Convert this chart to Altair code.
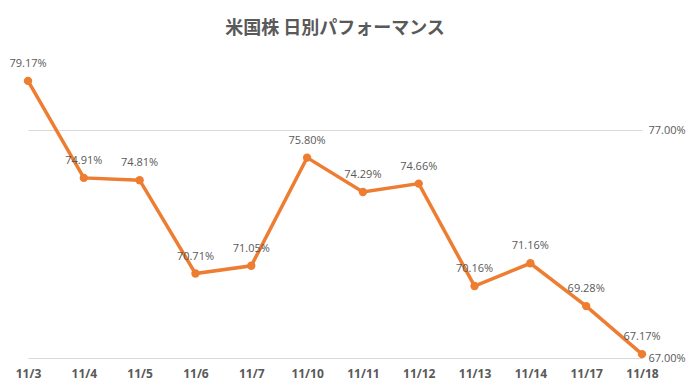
import altair as alt
import pandas as pd

dates = ["11/3", "11/4", "11/5", "11/6", "11/7", "11/10", "11/11", "11/12", "11/13", "11/14", "11/17", "11/18"]
values = [79.17, 74.91, 74.81, 70.71, 71.05, 75.80, 74.29, 74.66, 70.16, 71.16, 69.28, 67.17]
y_ticks = [67, 77]

df = pd.DataFrame({"date": dates, "value": values})

x = alt.X("date:N", sort=dates, scale=alt.Scale(type="point", padding=0),
          axis=alt.Axis(title=None, labelAngle=0, ticks=False, domain=False, grid=False,
                        labelFont="Open Sans", labelFontWeight="bold", labelFontSize=12,
                        labelColor="#595959", labelPadding=10))
y = alt.Y("value:Q", scale=alt.Scale(domain=[67, 80], nice=False, zero=False),
          axis=alt.Axis(title=None, orient="right", values=y_ticks, ticks=False, domain=False,
                        grid=True, gridColor="#d9d9d9", gridWidth=1,
                        labelExpr="format(datum.value, '.2f') + '%'",
                        labelFont="Open Sans", labelFontSize=11, labelColor="#595959",
                        labelPadding=6))

base = alt.Chart(df).encode(x=x, y=y)

line = base.mark_line(color="#ED7D31", strokeWidth=3.5)
pts = base.mark_circle(color="#ED7D31", size=70, opacity=1)
labels = base.transform_calculate(lbl="format(datum.value, '.2f') + '%'").mark_text(
    dy=-17, font="Open Sans", fontSize=11, color="#595959"
).encode(text="lbl:N")

chart = (line + pts + labels).properties(
    width=614, height=296,
    background="white",
    title=alt.Title("米国株 日別パフォーマンス", font="Noto Sans CJK JP", fontSize=18,
                    fontWeight="bold", color="#595959", anchor="middle", offset=20),
    autosize=alt.AutoSizeParams(type="none"),
    padding={"left": 28, "top": 62, "right": 56, "bottom": 34},
).configure_view(stroke=None)

chart.save("out.html", embed_options={"renderer": "svg", "actions": False})
